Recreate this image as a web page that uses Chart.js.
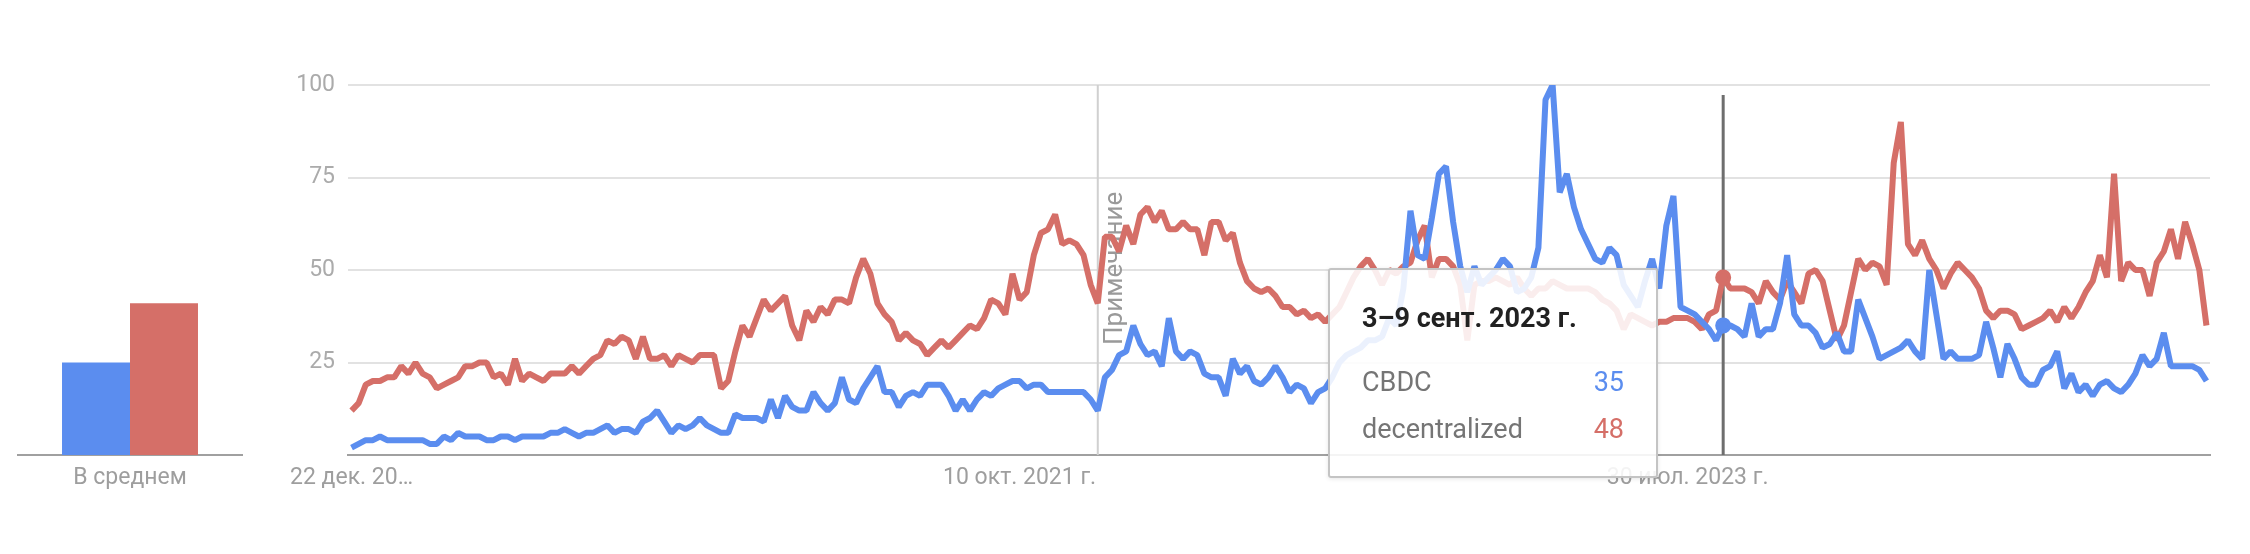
<!DOCTYPE html>
<html lang="ru">
<head>
<meta charset="utf-8">
<script src="https://cdn.jsdelivr.net/npm/chart.js@4.4.1/dist/chart.umd.min.js"></script>
<style>
  html, body { margin: 0; padding: 0; background: #fff; }
  body { width: 2250px; height: 554px; position: relative; overflow: hidden; font-family: Roboto, Arial, sans-serif; }
  #avgWrap { position: absolute; left: 0; top: 0; width: 260px; height: 554px; }
  #lineWrap { position: absolute; left: 260px; top: 0; width: 1990px; height: 554px; }
  .tip { position: absolute; left: 1328px; top: 268px; width: 330px; height: 210px; box-sizing: border-box;
         border: 2px solid #c4c4c4; border-radius: 3px; background: rgba(255,255,255,0.88);
         box-shadow: 0 1px 4px rgba(0,0,0,0.10); }
  .tip div { position: absolute; white-space: nowrap; line-height: 30px; }
  .tip .title { left: 32px; top: 33px; font-size: 27px; font-weight: 700; color: #212121; }
  .tip .name { left: 32px; font-size: 27px; color: #757575; }
  .tip .val { right: 32px; font-size: 27px; }
</style>
</head>
<body>
<div id="avgWrap"><canvas id="avgChart" width="260" height="554"></canvas></div>
<div id="lineWrap"><canvas id="trendChart" width="1990" height="554"></canvas></div>
<div class="tip" id="tip"></div>

<script>
// weekly interest, 22 Dec 2019 .. 22 Dec 2024
const cbdc = [
  2, 3, 4, 4, 5, 4, 4, 4, 4, 4,
  4, 3, 3, 5, 4, 6, 5, 5, 5, 4,
  4, 5, 5, 4, 5, 5, 5, 5, 6, 6,
  7, 6, 5, 6, 6, 7, 8, 6, 7, 7,
  6, 9, 10, 12, 9, 6, 8, 7, 8, 10,
  8, 7, 6, 6, 11, 10, 10, 10, 9, 15,
  10, 16, 13, 12, 12, 17, 14, 12, 14, 21,
  15, 14, 18, 21, 24, 17, 17, 13, 16, 17,
  16, 19, 19, 19, 16, 12, 15, 12, 15, 17,
  16, 18, 19, 20, 20, 18, 19, 19, 17, 17,
  17, 17, 17, 17, 15, 12, 21, 23, 27, 28,
  35, 30, 27, 28, 24, 37, 28, 26, 28, 27,
  22, 21, 21, 16, 26, 22, 24, 20, 19, 21,
  24, 21, 17, 19, 18, 14, 17, 18, 21, 25,
  27, 28, 29, 31, 31, 32, 37, 35, 45, 66,
  54, 53, 64, 76, 78, 63, 51, 44, 51, 46,
  48, 50, 53, 51, 44, 45, 48, 56, 96, 100,
  71, 76, 67, 61, 57, 53, 52, 56, 54, 46,
  43, 40, 47, 53, 45, 62, 70, 40, 39, 38,
  36, 34, 31, 35, 35, 34, 32, 41, 32, 34,
  34, 41, 54, 38, 35, 35, 33, 29, 30, 33,
  28, 28, 42, 37, 32, 26, 27, 28, 29, 31,
  28, 26, 50, 38, 26, 28, 26, 26, 26, 27,
  36, 29, 21, 30, 26, 21, 19, 19, 23, 24,
  28, 18, 22, 17, 19, 16, 19, 20, 18, 17,
  19, 22, 27, 24, 26, 33, 24, 24, 24, 24,
  23, 20
];
const decentralized = [
  12, 14, 19, 20, 20, 21, 21, 24, 22, 25,
  22, 21, 18, 19, 20, 21, 24, 24, 25, 25,
  21, 22, 19, 26, 20, 22, 21, 20, 22, 22,
  22, 24, 22, 24, 26, 27, 31, 30, 32, 31,
  26, 32, 26, 26, 27, 24, 27, 26, 25, 27,
  27, 27, 18, 20, 28, 35, 32, 37, 42, 39,
  41, 43, 35, 31, 39, 36, 40, 38, 42, 42,
  41, 48, 53, 49, 41, 38, 36, 31, 33, 31,
  30, 27, 29, 31, 29, 31, 33, 35, 34, 37,
  42, 41, 38, 49, 42, 44, 54, 60, 61, 65,
  57, 58, 57, 54, 46, 41, 59, 59, 55, 62,
  57, 65, 67, 63, 66, 61, 61, 63, 61, 61,
  54, 63, 63, 58, 60, 52, 47, 45, 44, 45,
  43, 40, 40, 38, 39, 37, 38, 36, 38, 40,
  44, 48, 51, 53, 50, 46, 50, 49, 51, 52,
  58, 62, 48, 53, 53, 51, 46, 31, 46, 47,
  47, 48, 47, 46, 48, 45, 43, 45, 45, 47,
  46, 45, 45, 45, 45, 44, 42, 41, 39, 34,
  38, 37, 36, 35, 36, 36, 37, 37, 37, 36,
  34, 38, 39, 48, 45, 45, 45, 44, 41, 47,
  44, 42, 47, 44, 41, 49, 50, 47, 39, 31,
  35, 44, 53, 50, 52, 51, 46, 79, 90, 57,
  54, 58, 53, 50, 45, 49, 52, 50, 48, 45,
  39, 37, 39, 39, 38, 34, 35, 36, 37, 39,
  36, 40, 37, 40, 44, 47, 54, 48, 76, 47,
  52, 50, 50, 43, 52, 55, 61, 53, 63, 57,
  50, 35
];
const seriesNames = ['CBDC', 'decentralized'];
const avgCategories = ['В среднем'];
const avgCbdc = [25];
const avgDecentralized = [41];

const tickIndices = [0, 94, 188];
const tickLabels = ['22 дек. 20…', '10 окт. 2021 г.', '30 июл. 2023 г.'];
const yTicks = [25, 50, 75, 100];

const noteIndex = 105;
const noteText = 'Примечание';
const hoverIndex = 193;
const hoverTitle = '3–9 сент. 2023 г.';

// week start dates as categories
const weeks = [];
for (let i = 0; i < cbdc.length; i++) {
    const d = new Date(2019, 11, 22 + 7 * i);
    weeks.push(d.getFullYear() + '-' + String(d.getMonth() + 1).padStart(2, '0') + '-' + String(d.getDate()).padStart(2, '0'));
}

const BLUE = '#5b8def';
const RED = '#d56f68';
const LABEL = '#9e9e9e';

Chart.defaults.font.family = 'Roboto, Arial, sans-serif';
Chart.defaults.animation = false;

new Chart(document.getElementById('avgChart'), {
    type: 'bar',
    data: {
        labels: avgCategories,
        datasets: [
            { label: seriesNames[0], data: avgCbdc, backgroundColor: BLUE },
            { label: seriesNames[1], data: avgDecentralized, backgroundColor: RED }
        ]
    },
    options: {
        responsive: false,
        events: [],
        categoryPercentage: 0.607,
        barPercentage: 1,
        layout: { padding: { left: 18, right: 18, top: 85, bottom: 0 } },
        plugins: { legend: { display: false }, tooltip: { enabled: false } },
        scales: {
            x: {
                grid: { display: false, drawTicks: false },
                border: { display: true, color: '#a0a0a0', width: 2 },
                ticks: { color: LABEL, font: { size: 23 }, padding: 9 },
                afterFit: s => { s.height = 99; }
            },
            y: { display: false, min: 0, max: 100 }
        }
    }
});

const overlay = {
    id: 'overlay',
    beforeDatasetsDraw(chart) {
        const { ctx, chartArea, scales: { x } } = chart;
        ctx.save();
        // note marker
        const nx = x.getPixelForValue(noteIndex);
        ctx.strokeStyle = '#d0d0d0';
        ctx.lineWidth = 2;
        ctx.beginPath();
        ctx.moveTo(nx, chartArea.top);
        ctx.lineTo(nx, chartArea.bottom);
        ctx.stroke();
        ctx.translate(nx + 5, 345);
        ctx.rotate(-Math.PI / 2);
        ctx.fillStyle = '#9a9a9a';
        ctx.font = '26px Roboto, Arial, sans-serif';
        ctx.textBaseline = 'top';
        ctx.fillText(noteText, 0, 0);
        ctx.restore();

        // hover line
        ctx.save();
        const hx = x.getPixelForValue(hoverIndex);
        ctx.strokeStyle = '#6e6e6e';
        ctx.lineWidth = 3;
        ctx.beginPath();
        ctx.moveTo(hx, 95);
        ctx.lineTo(hx, chartArea.bottom);
        ctx.stroke();
        ctx.restore();
    }
};

const dot = c => c.dataIndex === hoverIndex ? 6 : 0;

new Chart(document.getElementById('trendChart'), {
    type: 'line',
    data: {
        labels: weeks,
        datasets: [
            { label: seriesNames[0], data: cbdc, borderColor: BLUE, backgroundColor: BLUE },
            { label: seriesNames[1], data: decentralized, borderColor: RED, backgroundColor: RED }
        ]
    },
    options: {
        responsive: false,
        events: [],
        layout: { padding: { left: 0, right: 40, top: 85, bottom: 0 } },
        elements: {
            line: { borderWidth: 6, tension: 0, borderJoinStyle: 'bevel', borderCapStyle: 'butt' },
            point: { radius: dot, hoverRadius: 0, borderWidth: 4, borderColor: 'rgba(70,70,70,0.3)' }
        },
        plugins: { legend: { display: false }, tooltip: { enabled: false } },
        scales: {
            x: {
                offset: true,
                grid: { display: false, drawTicks: false },
                border: { display: true, color: '#a0a0a0', width: 2 },
                ticks: {
                    autoSkip: false, maxRotation: 0, minRotation: 0,
                    color: LABEL, font: { size: 23 }, padding: 9,
                    callback: v => tickLabels[tickIndices.indexOf(v)] || ''
                },
                afterBuildTicks: s => { s.ticks = tickIndices.map(v => ({ value: v })); },
                afterFit: s => { s.height = 99; }
            },
            y: {
                min: 0, max: 100,
                grid: { color: '#e2e2e2', lineWidth: 2, drawTicks: false },
                border: { display: false },
                ticks: {
                    color: '#ababab', font: { size: 23 }, padding: 13,
                    stepSize: 25,
                    callback: v => yTicks.includes(v) ? String(v) : ''
                },
                afterFit: s => { s.width = 88; }
            }
        }
    },
    plugins: [overlay]
});

// hover box
const tip = document.getElementById('tip');
const rows = [
    { name: seriesNames[0], value: cbdc[hoverIndex], color: BLUE, top: 97 },
    { name: seriesNames[1], value: decentralized[hoverIndex], color: RED, top: 144 }
];
let html = '<div class="title">' + hoverTitle + '</div>';
rows.forEach(r => {
    html += '<div class="name" style="top:' + r.top + 'px">' + r.name + '</div>';
    html += '<div class="val" style="top:' + r.top + 'px;color:' + r.color + '">' + r.value + '</div>';
});
tip.innerHTML = html;
</script>
</body>
</html>
